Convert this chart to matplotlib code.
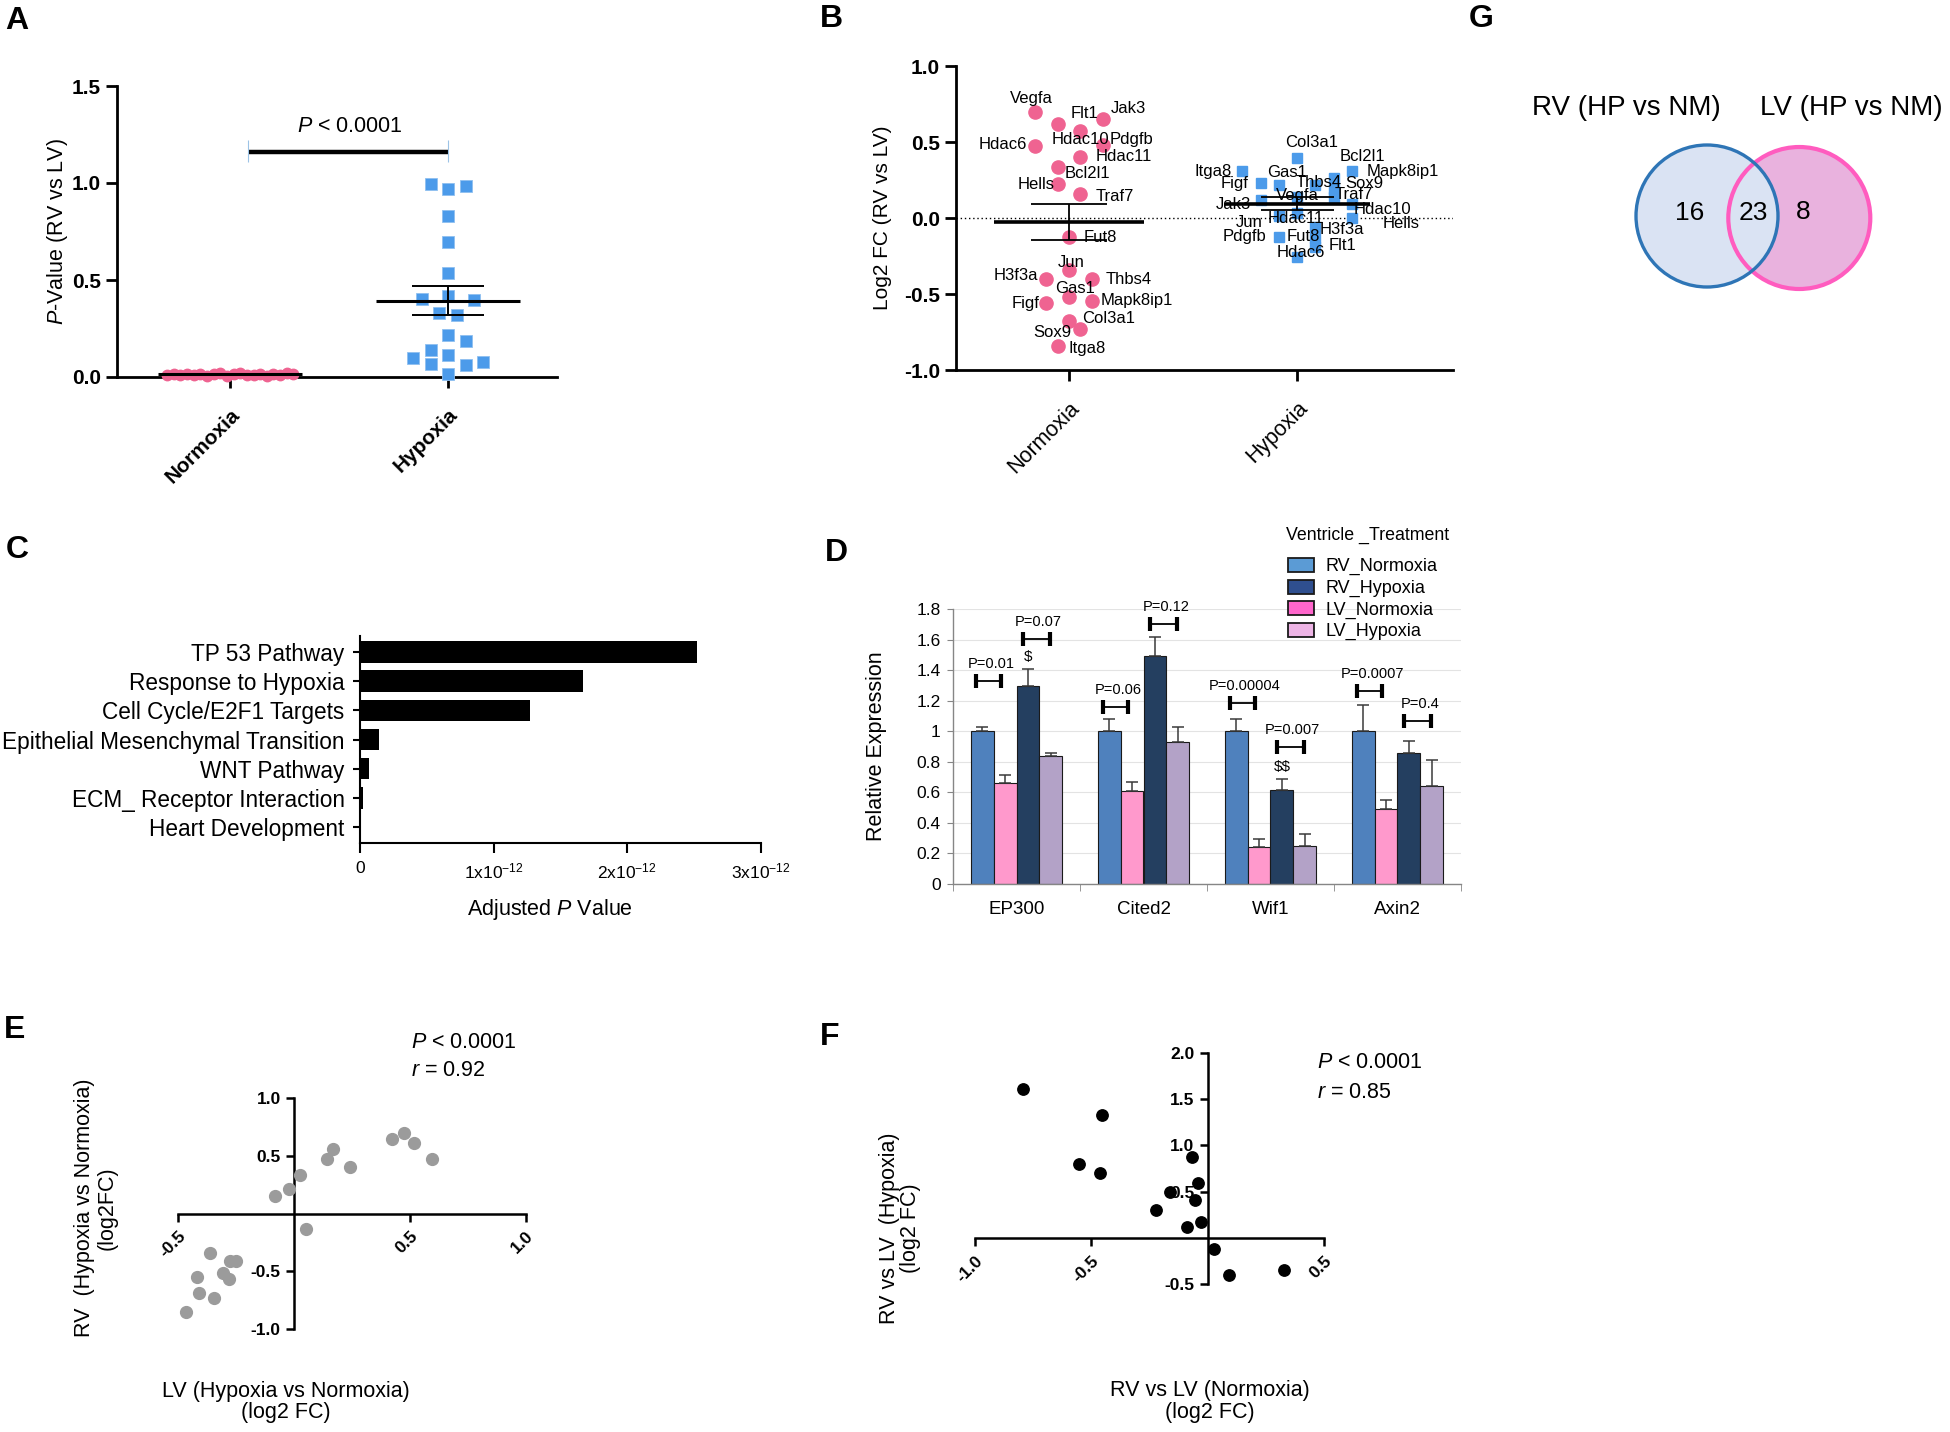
import numpy as np
import matplotlib
matplotlib.use('Agg')
import matplotlib.pyplot as plt
from matplotlib.patches import Patch, Circle

plt.rcParams['font.family'] = ['Liberation Sans', 'DejaVu Sans']
plt.rcParams['mathtext.fontset'] = 'custom'
plt.rcParams['mathtext.rm'] = 'Liberation Sans'
plt.rcParams['mathtext.it'] = 'Liberation Sans:italic'

# ---- data ----
# A: P-values RV vs LV per gene
a_groups = ['Normoxia', 'Hypoxia']
a_normoxia = [0.012, 0.016, 0.008, 0.014, 0.010, 0.018, 0.006, 0.013, 0.020, 0.005,
              0.015, 0.022, 0.009, 0.012, 0.017, 0.007, 0.014, 0.011, 0.019, 0.013]
a_hypoxia = [0.995, 0.970, 0.982, 0.832, 0.695, 0.535, 0.402, 0.415, 0.398, 0.330,
             0.321, 0.218, 0.184, 0.141, 0.115, 0.098, 0.069, 0.064, 0.077, 0.017]
a_p_text = 'P < 0.0001'

# B: log2 FC RV vs LV
b_groups = ['Normoxia', 'Hypoxia']
b_genes = ['Vegfa', 'Flt1', 'Jak3', 'Hdac10', 'Pdgfb', 'Hdac6', 'Hdac11', 'Bcl2l1', 'Hells', 'Traf7',
           'Fut8', 'Jun', 'H3f3a', 'Thbs4', 'Gas1', 'Mapk8ip1', 'Figf', 'Col3a1', 'Sox9', 'Itga8']
b_normoxia = [0.70, 0.616, 0.651, 0.572, 0.48, 0.474, 0.404, 0.338, 0.221, 0.156,
              -0.127, -0.342, -0.404, -0.404, -0.518, -0.544, -0.561, -0.678, -0.730, -0.840]
b_hypoxia = [0.136, -0.19, 0.118, 0.09, -0.123, -0.254, 0.031, 0.261, 0.0, 0.136,
             -0.134, 0.013, -0.057, 0.217, 0.217, 0.311, 0.232, 0.393, 0.19, 0.309]

# C: enrichment
c_pathways = ['TP 53 Pathway', 'Response to Hypoxia', 'Cell Cycle/E2F1 Targets',
              'Epithelial Mesenchymal Transition', 'WNT Pathway', 'ECM_ Receptor Interaction',
              'Heart Development']
c_adj_p = [2.52e-12, 1.67e-12, 1.27e-12, 0.14e-12, 0.065e-12, 0.02e-12, 0.008e-12]

# D: qPCR
d_genes = ['EP300', 'Cited2', 'Wif1', 'Axin2']
d_series = ['RV_Normoxia', 'LV_Normoxia', 'RV_Hypoxia', 'LV_Hypoxia']
d_rv_norm = [1.0, 1.0, 1.0, 1.0]
d_rv_norm_err = [0.025, 0.08, 0.08, 0.17]
d_lv_norm = [0.661, 0.611, 0.242, 0.493]
d_lv_norm_err = [0.055, 0.057, 0.053, 0.059]
d_rv_hyp = [1.294, 1.49, 0.617, 0.858]
d_rv_hyp_err = [0.113, 0.125, 0.07, 0.076]
d_lv_hyp = [0.836, 0.927, 0.251, 0.644]
d_lv_hyp_err = [0.02, 0.1, 0.079, 0.17]
d_p_norm = ['P=0.01', 'P=0.06', 'P=0.00004', 'P=0.0007']
d_p_norm_y = [1.327, 1.157, 1.185, 1.261]
d_p_hyp = ['P=0.07', 'P=0.12', 'P=0.007', 'P=0.4']
d_p_hyp_y = [1.604, 1.704, 0.895, 1.065]
d_marks = ['$', '', '$$', '']

# E: RV vs LV hypoxia response
e_lv = [0.473, 0.424, 0.519, 0.596, 0.166, 0.143, 0.240, 0.025, -0.022, -0.083,
        0.051, -0.364, -0.276, -0.249, -0.307, -0.280, -0.418, -0.410, -0.346, -0.467]
e_rv = [0.697, 0.646, 0.611, 0.473, 0.562, 0.476, 0.401, 0.337, 0.216, 0.150,
        -0.138, -0.346, -0.412, -0.412, -0.513, -0.571, -0.550, -0.692, -0.735, -0.850]
e_stats = ['P < 0.0001', 'r = 0.92']

# F: RV vs LV normoxia vs hypoxia
f_norm = [-0.793, -0.455, -0.554, -0.463, -0.068, -0.043, -0.162, -0.055, -0.223, -0.030,
          -0.088, 0.028, 0.091, 0.329]
f_hyp = [1.608, 1.324, 0.795, 0.698, 0.874, 0.594, 0.493, 0.406, 0.306, 0.173,
         0.122, -0.119, -0.403, -0.353]
f_stats = ['P < 0.0001', 'r = 0.85']

# G: venn
g_sets = ['RV (HP vs NM)', 'LV (HP vs NM)']
g_counts = [16, 23, 8]

# ---- layout helpers (jitter columns / label offsets are layout only) ----
a_hyp_cols = [-1, 0, 1, 0, 0, 0, -1.5, 0, 1.5, -0.5, 0.5, 0, 1, -1, 0, -2, -1, 1, 2, 0]
b_norm_cols = [-3, -1, 3, 1, 3, -3, 1, -1, -1, 1, 0, 0, -2, 2, 0, 2, -2, 0, 1, -1]
b_hyp_cols = [0, 1, -2, 3, -1, 0, 0, 2, 3, 2, 1, -1, 1, 1, -1, 3, -2, 0, 2, -3]
b_norm_off = [(-4, 13), (27, 11), (25, 11), (0, -8), (28, 6), (-32, 1), (43, 0), (30, -7),
              (-22, 0), (34, -2), (31, 0), (2, 7), (-30, 4), (37, 0), (6, 8), (45, 0),
              (-21, 0), (40, 3), (-28, -4), (29, -3)]
b_hyp_off = [(0, 2), (27, 1), (-27, -4), (31, -5), (-34, 0), (4, 4), (-1, -5), (29, 22),
             (49, -5), (20, 3), (-12, 2), (-30, -6), (27, -3), (3, 3), (8, 13), (51, -1),
             (-26, -1), (15, 16), (31, 6), (-29, 0)]

PINK = '#EF6391'
BLUE = '#4C9BEA'

W, H = 1950, 1432
fig = plt.figure(figsize=(W / 100, H / 100), dpi=100)


def px_axes(left, top, right, bottom):
    return fig.add_axes([left / W, 1 - bottom / H, (right - left) / W, (bottom - top) / H])


def fig_text(x, y, s, **kw):
    fig.text(x / W, 1 - y / H, s, **kw)


def mean_sem(ax, i, vals, half, lw_m, lw_s):
    m = np.mean(vals)
    se = np.std(vals, ddof=1) / np.sqrt(len(vals))
    ax.hlines(m, i - half, i + half, color='k', lw=lw_m, zorder=4)
    ax.hlines([m - se, m + se], i - half / 2, i + half / 2, color='k', lw=lw_s, zorder=4)
    ax.vlines(i, m - se, m + se, color='k', lw=lw_s, zorder=4)


for lab, (x, y) in zip('ABCDEFG', [(17, 21), (831, 19), (17, 550), (836, 553), (15, 1030),
                                   (830, 1037), (1481, 19)]):
    fig_text(x, y, lab, fontsize=23, fontweight='bold', ha='center', va='center')

# ---- A ----
axA = px_axes(117, 86, 557, 377)
xn = np.linspace(-0.29, 0.29, len(a_normoxia))
xh = 1 + 0.08 * np.array(a_hyp_cols)
axA.plot(xn, a_normoxia, 'o', ms=7.5, color=PINK, mec=PINK, clip_on=False, zorder=3)
axA.plot(xh, a_hypoxia, 's', ms=8, color=BLUE, mec='#8fc0f0', mew=0.6, clip_on=False, zorder=3)
mean_sem(axA, 0, a_normoxia, 0.33, 2.2, 1.4)
mean_sem(axA, 1, a_hypoxia, 0.33, 2.2, 1.4)
axA.plot([0.08, 1.0], [1.162, 1.162], color='k', lw=3.2, solid_capstyle='butt')
axA.vlines([0.08, 1.0], 1.11, 1.22, color='#9cc3e6', lw=0.8)
axA.text(0.55, 1.235, r'$P$' + a_p_text[1:], ha='center', va='bottom', fontsize=15.5)
axA.set_xlim(-0.52, 1.5)
axA.set_ylim(0, 1.5)
for s in ['top', 'right']:
    axA.spines[s].set_visible(False)
for s in ['left', 'bottom']:
    axA.spines[s].set_linewidth(2)
axA.set_yticks([0, 0.5, 1.0, 1.5], ['0.0', '0.5', '1.0', '1.5'], fontsize=15, fontweight='bold')
axA.set_xticks([0, 1])
axA.set_xticklabels(a_groups, rotation=45, ha='right', rotation_mode='anchor',
                    fontsize=15, fontweight='bold')
axA.tick_params(axis='both', width=2, length=8)
axA.tick_params(axis='x', pad=12)
axA.set_ylabel(r'$P$-Value (RV vs LV)', fontsize=15.5, va='center')
axA.yaxis.set_label_coords(-0.136, 0.5)

# ---- B ----
axB = px_axes(956, 66, 1453, 370)
xbn = 0.05 * np.array(b_norm_cols)
xbh = 1 + 0.08 * np.array(b_hyp_cols)
axB.axhline(0, color='k', lw=1, ls=(0, (1, 2)), zorder=1)
axB.plot(xbn, b_normoxia, 'o', ms=9.5, color=PINK, mec=PINK, zorder=3)
axB.plot(xbh, b_hypoxia, 's', ms=7.2, color=BLUE, mec=BLUE, zorder=3)
mean_sem(axB, 0, b_normoxia, 0.33, 2.6, 1.3)
mean_sem(axB, 1, b_hypoxia, 0.32, 2.6, 1.3)
for g, x, y, off in zip(b_genes, xbn, b_normoxia, b_norm_off):
    axB.annotate(g, (x, y), xytext=off, textcoords='offset pixels', ha='center', va='center',
                 fontsize=12, zorder=5)
for g, x, y, off in zip(b_genes, xbh, b_hypoxia, b_hyp_off):
    axB.annotate(g, (x, y), xytext=off, textcoords='offset pixels', ha='center', va='center',
                 fontsize=12, zorder=5)
axB.set_xlim(-0.496, 1.684)
axB.set_ylim(-1.0, 1.0)
for s in ['top', 'right']:
    axB.spines[s].set_visible(False)
for s in ['left', 'bottom']:
    axB.spines[s].set_linewidth(2)
axB.set_yticks([-1.0, -0.5, 0, 0.5, 1.0], ['-1.0', '-0.5', '0.0', '0.5', '1.0'],
               fontsize=15, fontweight='bold')
axB.set_xticks([0, 1])
axB.set_xticklabels(b_groups, rotation=45, ha='right', rotation_mode='anchor', fontsize=15.5)
axB.tick_params(axis='both', width=2, length=8)
axB.tick_params(axis='x', pad=12)
axB.set_ylabel('Log2 FC (RV vs LV)', fontsize=15, va='center')
axB.yaxis.set_label_coords(-0.147, 0.5)

# ---- C ----
axC = px_axes(360, 636, 761, 843)
yc = np.arange(len(c_pathways))
axC.barh(yc, c_adj_p, height=0.74, color='black')
axC.set_ylim(6.55, -0.55)
axC.set_xlim(0, 3e-12)
for s in ['top', 'right']:
    axC.spines[s].set_visible(False)
for s in ['left', 'bottom']:
    axC.spines[s].set_linewidth(1.5)
axC.set_yticks(yc, c_pathways, fontsize=16.3)
axC.set_xticks([0, 1e-12, 2e-12, 3e-12],
               ['0', r'1x10$^{\mathregular{-12}}$', r'2x10$^{\mathregular{-12}}$',
                r'3x10$^{\mathregular{-12}}$'], fontsize=12.5)
axC.tick_params(axis='y', length=5, width=1.5, pad=6)
axC.tick_params(axis='x', length=7, width=1.5, pad=6)
axC.set_xlabel(r'Adjusted $P$ Value', fontsize=15.5, va='center')
axC.xaxis.set_label_coords(0.474, -0.32)

# ---- D ----
axD = px_axes(953, 609, 1461, 884)
xd = np.arange(len(d_genes))
bar_colors = ['#4F81BD', '#FF99CC', '#243F60', '#B3A2C7']
leg_colors = ['#5B9BD5', '#2F4F8F', '#FF66CC', '#EDB4E5']
series_vals = [d_rv_norm, d_lv_norm, d_rv_hyp, d_lv_hyp]
series_err = [d_rv_norm_err, d_lv_norm_err, d_rv_hyp_err, d_lv_hyp_err]
offs = [-0.27, -0.09, 0.09, 0.27]
for vals, errs, c, o in zip(series_vals, series_err, bar_colors, offs):
    axD.bar(xd + o, vals, width=0.18, color=c, edgecolor='#1a1a1a', lw=0.8,
            yerr=[np.zeros(len(errs)), errs],
            error_kw=dict(ecolor='#3a3a3a', elinewidth=1.1, capsize=4.5, capthick=1.1), zorder=2)


def bracket(ax, x1, x2, y, label):
    ax.hlines(y, x1, x2, color='k', lw=1.3, zorder=3, clip_on=False)
    ax.vlines([x1, x2], y - 0.045, y + 0.045, color='k', lw=3, zorder=3, clip_on=False)
    ax.text((x1 + x2) / 2 + 0.02, y + 0.065, label, ha='center', va='bottom', fontsize=10.5,
            clip_on=False)


for i in range(len(d_genes)):
    bracket(axD, i - 0.32, i - 0.12, d_p_norm_y[i], d_p_norm[i])
    bracket(axD, i + 0.05, i + 0.26, d_p_hyp_y[i], d_p_hyp[i])
    if d_marks[i]:
        top = d_rv_hyp[i] + d_rv_hyp_err[i]
        axD.text(i + 0.09, top + 0.03, d_marks[i].replace('$', r'\$'), ha='center',
                 va='bottom', fontsize=11)
axD.set_xlim(-0.5, 3.5)
axD.set_ylim(0, 1.8)
axD.yaxis.grid(True, color='#e3e3e3', lw=0.8)
axD.set_axisbelow(True)
for s in ['top', 'right']:
    axD.spines[s].set_visible(False)
for s in ['left', 'bottom']:
    axD.spines[s].set_color('#868686')
    axD.spines[s].set_linewidth(1)
yt = np.round(np.arange(0, 1.81, 0.2), 1)
axD.set_yticks(yt, ['%g' % v for v in yt], fontsize=12.5)
axD.set_xticks(xd, d_genes, fontsize=13.5)
axD.set_xticks(np.arange(-0.5, 3.6, 1), minor=True)
axD.tick_params(axis='x', which='major', length=0, pad=12)
axD.tick_params(axis='x', which='minor', length=5, color='#868686')
axD.tick_params(axis='y', length=4, color='#868686', pad=5)
axD.set_ylabel('Relative Expression', fontsize=15.5, va='center')
axD.yaxis.set_label_coords(-0.15, 0.5)
order = [0, 2, 1, 3]
handles = [Patch(facecolor=leg_colors[k], edgecolor='#1a1a1a', lw=1.3) for k in range(4)]
fig_text(1286, 535, 'Ventricle _Treatment', fontsize=12.8, ha='left', va='center')
fig.legend(handles, [d_series[k] for k in order], loc='upper left',
           bbox_to_anchor=(1288 / W, 1 - 558 / H), frameon=False,
           fontsize=13, handlelength=1.45, handleheight=0.8, labelspacing=0.24,
           handletextpad=0.6, borderaxespad=0, borderpad=0)


def quad_axes(ax, xt, xl, yt, yl):
    for s in ['top', 'right']:
        ax.spines[s].set_visible(False)
    for s in ['left', 'bottom']:
        ax.spines[s].set_position(('data', 0))
        ax.spines[s].set_linewidth(1.8)
    ax.set_xticks(xt)
    ax.set_xticklabels(xl, rotation=45, ha='right', rotation_mode='anchor',
                       fontsize=12.5, fontweight='bold')
    ax.set_yticks(yt, yl, fontsize=12.5, fontweight='bold')
    ax.tick_params(axis='both', width=1.8, length=6)
    ax.tick_params(axis='x', pad=5)


# ---- E ----
axE = px_axes(178, 1098, 526, 1329)
axE.plot(e_lv, e_rv, 'o', ms=8.5, color='#9b9b9b', mec='#9b9b9b', zorder=3)
axE.set_xlim(-0.5, 1.0)
axE.set_ylim(-1.0, 1.0)
quad_axes(axE, [-0.5, 0.5, 1.0], ['-0.5', '0.5', '1.0'], [-1.0, -0.5, 0.5, 1.0],
          ['-1.0', '-0.5', '0.5', '1.0'])
axE.set_ylabel('RV  (Hypoxia vs Normoxia)\n(log2FC)', fontsize=15.5, linespacing=1.05,
               va='center')
axE.yaxis.set_label_coords(-0.236, 0.524)
axE.set_xlabel('LV (Hypoxia vs Normoxia)\n(log2 FC)', fontsize=15.5, linespacing=1.05,
               va='center')
axE.xaxis.set_label_coords(0.31, -0.316)
fig_text(411, 1042, r'$P$' + e_stats[0][1:], fontsize=15.5, va='center')
fig_text(411, 1070, r'$r$' + e_stats[1][1:], fontsize=15.5, va='center')

# ---- F ----
axF = px_axes(975, 1053, 1324, 1284)
axF.plot(f_norm, f_hyp, 'o', ms=8.2, color='black', zorder=3)
axF.set_xlim(-1.0, 0.5)
axF.set_ylim(-0.5, 2.0)
quad_axes(axF, [-1.0, -0.5, 0.5], ['-1.0', '-0.5', '0.5'], [-0.5, 0.5, 1.0, 1.5, 2.0],
          ['-0.5', '0.5', '1.0', '1.5', '2.0'])
axF.set_ylabel('RV vs LV  (Hypoxia)\n(log2 FC)', fontsize=15.5, linespacing=1.05, va='center')
axF.yaxis.set_label_coords(-0.215, 0.242)
axF.set_xlabel('RV vs LV (Normoxia)\n(log2 FC)', fontsize=15.5, linespacing=1.05, va='center')
axF.xaxis.set_label_coords(0.673, -0.51)
fig_text(1317, 1063, r'$P$' + f_stats[0][1:], fontsize=15.5, va='center')
fig_text(1317, 1092, r'$r$' + f_stats[1][1:], fontsize=15.5, va='center')

# ---- G ----
axG = px_axes(1460, 120, 1950, 310)
axG.set_xlim(1460, 1950)
axG.set_ylim(310, 120)
axG.axis('off')
r_venn = 71
cy = 216
c_rv = (1707, cy)
c_lv = (c_rv[0] + 1.3 * r_venn, cy + 2)
axG.add_patch(Circle(c_lv, r_venn, facecolor='#E9B2DE', edgecolor='none'))
axG.add_patch(Circle(c_rv, r_venn, facecolor='#DAE3F3', edgecolor='none'))
axG.add_patch(Circle(c_lv, r_venn, facecolor='none', edgecolor='#FF5CBF', lw=3))
axG.add_patch(Circle(c_rv, r_venn, facecolor='none', edgecolor='#2E75B6', lw=2.4))
axG.text(c_rv[0] - 0.24 * r_venn, cy - 3, str(g_counts[0]), ha='center', va='center', fontsize=19)
axG.text((c_rv[0] + c_lv[0]) / 2, cy - 3, str(g_counts[1]), ha='center', va='center', fontsize=19)
axG.text(c_lv[0] + 0.06 * r_venn, cy - 4, str(g_counts[2]), ha='center', va='center', fontsize=19)
fig_text(1626, 108, g_sets[0], fontsize=20, ha='center', va='center')
fig_text(1851, 108, g_sets[1], fontsize=20, ha='center', va='center')

fig.savefig('out.png', dpi=100, facecolor='white')
